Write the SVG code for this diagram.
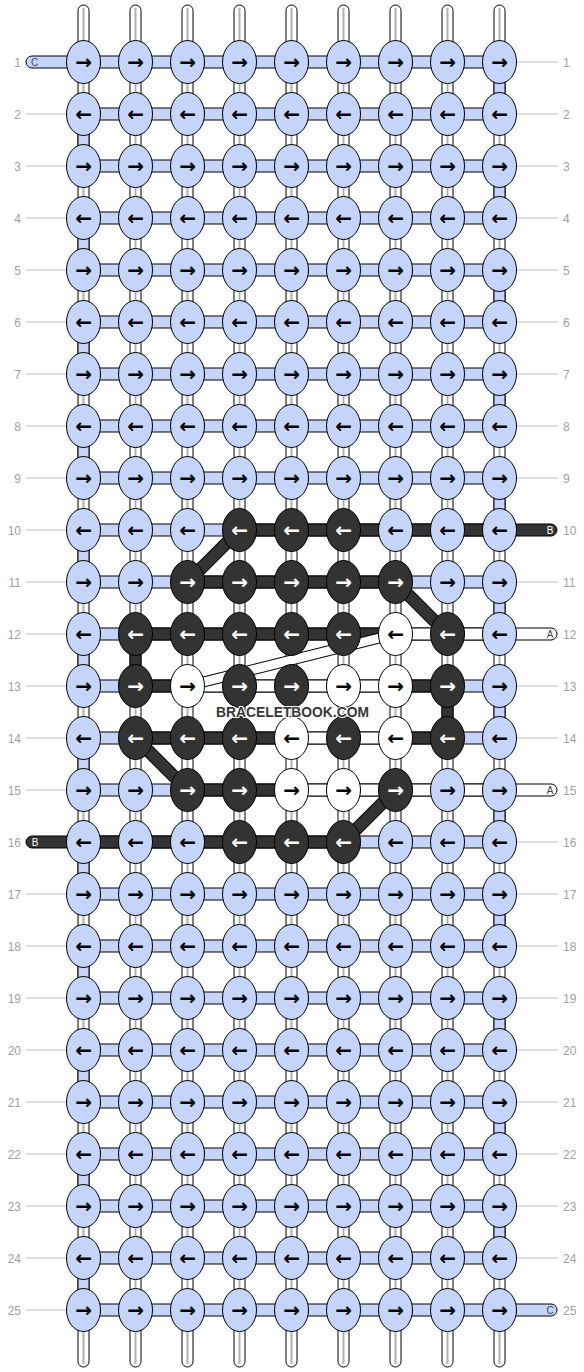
<svg xmlns="http://www.w3.org/2000/svg" width="584" height="1372" viewBox="0 0 584 1372">
<style>
.warp{fill:#fff;stroke:#000;stroke-width:1}
.wl{stroke:#b0b0b0;stroke-width:2}
.sb{fill:#c5d5f9;stroke:#000;stroke-width:1}
.sd{fill:#333;stroke:#000;stroke-width:1}
.sw{fill:#fff;stroke:#000;stroke-width:1}
.dg{stroke:#000;stroke-width:13;stroke-linecap:butt}
.dgi{stroke:#333;stroke-width:11}
.wg{stroke:#000;stroke-width:11}
.wgi{stroke:#fff;stroke-width:9}
.nodes ellipse{stroke:#000;stroke-width:1}
.b ellipse{fill:#c5d5f9}
.d ellipse{fill:#333}
.w ellipse{fill:#fff}
.nodes text{font-family:"DejaVu Sans",sans-serif;font-size:20px;font-weight:bold;text-anchor:middle;fill:#000}
.d text{fill:#fff}
.num{font-family:"Liberation Sans",Arial,sans-serif;font-size:12px;fill:#a0a0a0}
.ln{stroke:#bbb;stroke-width:1}
.lt{font-family:"Liberation Sans",Arial,sans-serif;font-size:10px;text-anchor:middle}
</style>
<g id="connectors">
<g id="warps">
<rect class="warp" x="78" y="5" width="11" height="1362" rx="5.5"/><line class="wl" x1="83.5" y1="8" x2="83.5" y2="1364"/>
<rect class="warp" x="130" y="5" width="11" height="1362" rx="5.5"/><line class="wl" x1="135.5" y1="8" x2="135.5" y2="1364"/>
<rect class="warp" x="182" y="5" width="11" height="1362" rx="5.5"/><line class="wl" x1="187.5" y1="8" x2="187.5" y2="1364"/>
<rect class="warp" x="234" y="5" width="11" height="1362" rx="5.5"/><line class="wl" x1="239.5" y1="8" x2="239.5" y2="1364"/>
<rect class="warp" x="286" y="5" width="11" height="1362" rx="5.5"/><line class="wl" x1="291.5" y1="8" x2="291.5" y2="1364"/>
<rect class="warp" x="338" y="5" width="11" height="1362" rx="5.5"/><line class="wl" x1="343.5" y1="8" x2="343.5" y2="1364"/>
<rect class="warp" x="390" y="5" width="11" height="1362" rx="5.5"/><line class="wl" x1="395.5" y1="8" x2="395.5" y2="1364"/>
<rect class="warp" x="442" y="5" width="11" height="1362" rx="5.5"/><line class="wl" x1="447.5" y1="8" x2="447.5" y2="1364"/>
<rect class="warp" x="494" y="5" width="11" height="1362" rx="5.5"/><line class="wl" x1="499.5" y1="8" x2="499.5" y2="1364"/>
</g>
<g id="wraps">
<rect class="sb" x="494" y="62" width="11" height="52"/>
<rect class="sb" x="494" y="166" width="11" height="52"/>
<rect class="sb" x="494" y="270" width="11" height="52"/>
<rect class="sb" x="494" y="374" width="11" height="52"/>
<rect class="sb" x="494" y="478" width="11" height="52"/>
<rect class="sb" x="494" y="582" width="11" height="52"/>
<rect class="sb" x="494" y="686" width="11" height="52"/>
<rect class="sb" x="494" y="790" width="11" height="52"/>
<rect class="sb" x="494" y="894" width="11" height="52"/>
<rect class="sb" x="494" y="998" width="11" height="52"/>
<rect class="sb" x="494" y="1102" width="11" height="52"/>
<rect class="sb" x="494" y="1206" width="11" height="52"/>
<rect class="sb" x="78" y="114" width="11" height="52"/>
<rect class="sb" x="78" y="218" width="11" height="52"/>
<rect class="sb" x="78" y="322" width="11" height="52"/>
<rect class="sb" x="78" y="426" width="11" height="52"/>
<rect class="sb" x="78" y="530" width="11" height="52"/>
<rect class="sb" x="78" y="634" width="11" height="52"/>
<rect class="sb" x="78" y="738" width="11" height="52"/>
<rect class="sb" x="78" y="842" width="11" height="52"/>
<rect class="sb" x="78" y="946" width="11" height="52"/>
<rect class="sb" x="78" y="1050" width="11" height="52"/>
<rect class="sb" x="78" y="1154" width="11" height="52"/>
<rect class="sb" x="78" y="1258" width="11" height="52"/>
<rect class="sd" x="130" y="634" width="11" height="52"/>
<rect class="sd" x="442" y="686" width="11" height="52"/>
</g>
<g id="rowbars">
<rect class="sb" x="83.5" y="56" width="416" height="12"/>
<rect class="sb" x="83.5" y="108" width="416" height="12"/>
<rect class="sb" x="83.5" y="160" width="416" height="12"/>
<rect class="sb" x="83.5" y="212" width="416" height="12"/>
<rect class="sb" x="83.5" y="264" width="416" height="12"/>
<rect class="sb" x="83.5" y="316" width="416" height="12"/>
<rect class="sb" x="83.5" y="368" width="416" height="12"/>
<rect class="sb" x="83.5" y="420" width="416" height="12"/>
<rect class="sb" x="83.5" y="472" width="416" height="12"/>
<rect class="sb" x="83.5" y="524" width="416" height="12"/>
<rect class="sb" x="83.5" y="576" width="416" height="12"/>
<rect class="sb" x="83.5" y="628" width="416" height="12"/>
<rect class="sb" x="83.5" y="680" width="416" height="12"/>
<rect class="sb" x="83.5" y="732" width="416" height="12"/>
<rect class="sb" x="83.5" y="784" width="416" height="12"/>
<rect class="sb" x="83.5" y="836" width="416" height="12"/>
<rect class="sb" x="83.5" y="888" width="416" height="12"/>
<rect class="sb" x="83.5" y="940" width="416" height="12"/>
<rect class="sb" x="83.5" y="992" width="416" height="12"/>
<rect class="sb" x="83.5" y="1044" width="416" height="12"/>
<rect class="sb" x="83.5" y="1096" width="416" height="12"/>
<rect class="sb" x="83.5" y="1148" width="416" height="12"/>
<rect class="sb" x="83.5" y="1200" width="416" height="12"/>
<rect class="sb" x="83.5" y="1252" width="416" height="12"/>
<rect class="sb" x="83.5" y="1304" width="416" height="12"/>
</g>
<g id="patternbars">
<rect class="sd" x="239.5" y="524" width="260" height="12"/>
<rect class="sd" x="187.5" y="576" width="208" height="12"/>
<rect class="sd" x="135.5" y="628" width="260" height="12"/>
<rect class="sw" x="395.5" y="628" width="104" height="12"/>
<rect class="sd" x="135.5" y="680" width="52" height="12"/>
<rect class="sw" x="187.5" y="680" width="208" height="12"/>
<rect class="sd" x="395.5" y="680" width="52" height="12"/>
<rect class="sd" x="135.5" y="732" width="156" height="12"/>
<rect class="sw" x="291.5" y="732" width="104" height="12"/>
<rect class="sd" x="395.5" y="732" width="52" height="12"/>
<rect class="sd" x="187.5" y="784" width="104" height="12"/>
<rect class="sw" x="291.5" y="784" width="208" height="12"/>
<rect class="sd" x="83.5" y="836" width="260" height="12"/>
</g>
<g id="diagonals">
<line class="dg" x1="239.5" y1="530" x2="187.5" y2="582"/><line class="dgi" x1="239.5" y1="530" x2="187.5" y2="582"/>
<line class="dg" x1="395.5" y1="582" x2="447.5" y2="634"/><line class="dgi" x1="395.5" y1="582" x2="447.5" y2="634"/>
<line class="dg" x1="135.5" y1="738" x2="187.5" y2="790"/><line class="dgi" x1="135.5" y1="738" x2="187.5" y2="790"/>
<line class="dg" x1="395.5" y1="790" x2="343.5" y2="842"/><line class="dgi" x1="395.5" y1="790" x2="343.5" y2="842"/>
<line class="wg" x1="395.5" y1="634" x2="187.5" y2="686"/><line class="wgi" x1="395.5" y1="634" x2="187.5" y2="686"/>
</g>
<g id="ends">
<path class="sb" d="M83.5,56 H32 A6,6 0 0 0 32,68 H83.5 Z"/><text class="lt" x="34.5" y="65.5" fill="#444">C</text>
<path class="sd" d="M83.5,836 H32 A6,6 0 0 0 32,848 H83.5 Z"/><text class="lt" x="35" y="845.5" fill="#fff">B</text>
<path class="sd" d="M499.5,524 H551 A6,6 0 0 1 551,536 H499.5 Z"/><text class="lt" x="550" y="533.5" fill="#fff">B</text>
<path class="sw" d="M499.5,628 H551 A6,6 0 0 1 551,640 H499.5 Z"/><text class="lt" x="550" y="637.5" fill="#444">A</text>
<path class="sw" d="M499.5,784 H551 A6,6 0 0 1 551,796 H499.5 Z"/><text class="lt" x="550" y="793.5" fill="#444">A</text>
<path class="sb" d="M499.5,1304 H551 A6,6 0 0 1 551,1316 H499.5 Z"/><text class="lt" x="550" y="1313.5" fill="#444">C</text>
</g>
</g>
<g class="nodes">
<g id="row1" transform="translate(0,62)">
<g id="r1c1" class="b" transform="translate(83.5)"><ellipse rx="17" ry="21.5"/><text y="6.5">→</text></g>
<g id="r1c2" class="b" transform="translate(135.5)"><ellipse rx="17" ry="21.5"/><text y="6.5">→</text></g>
<g id="r1c3" class="b" transform="translate(187.5)"><ellipse rx="17" ry="21.5"/><text y="6.5">→</text></g>
<g id="r1c4" class="b" transform="translate(239.5)"><ellipse rx="17" ry="21.5"/><text y="6.5">→</text></g>
<g id="r1c5" class="b" transform="translate(291.5)"><ellipse rx="17" ry="21.5"/><text y="6.5">→</text></g>
<g id="r1c6" class="b" transform="translate(343.5)"><ellipse rx="17" ry="21.5"/><text y="6.5">→</text></g>
<g id="r1c7" class="b" transform="translate(395.5)"><ellipse rx="17" ry="21.5"/><text y="6.5">→</text></g>
<g id="r1c8" class="b" transform="translate(447.5)"><ellipse rx="17" ry="21.5"/><text y="6.5">→</text></g>
<g id="r1c9" class="b" transform="translate(499.5)"><ellipse rx="17" ry="21.5"/><text y="6.5">→</text></g>
</g>
<g id="row2" transform="translate(0,114)">
<g id="r2c1" class="b" transform="translate(83.5)"><ellipse rx="17" ry="21.5"/><text y="6.5">←</text></g>
<g id="r2c2" class="b" transform="translate(135.5)"><ellipse rx="17" ry="21.5"/><text y="6.5">←</text></g>
<g id="r2c3" class="b" transform="translate(187.5)"><ellipse rx="17" ry="21.5"/><text y="6.5">←</text></g>
<g id="r2c4" class="b" transform="translate(239.5)"><ellipse rx="17" ry="21.5"/><text y="6.5">←</text></g>
<g id="r2c5" class="b" transform="translate(291.5)"><ellipse rx="17" ry="21.5"/><text y="6.5">←</text></g>
<g id="r2c6" class="b" transform="translate(343.5)"><ellipse rx="17" ry="21.5"/><text y="6.5">←</text></g>
<g id="r2c7" class="b" transform="translate(395.5)"><ellipse rx="17" ry="21.5"/><text y="6.5">←</text></g>
<g id="r2c8" class="b" transform="translate(447.5)"><ellipse rx="17" ry="21.5"/><text y="6.5">←</text></g>
<g id="r2c9" class="b" transform="translate(499.5)"><ellipse rx="17" ry="21.5"/><text y="6.5">←</text></g>
</g>
<g id="row3" transform="translate(0,166)">
<g id="r3c1" class="b" transform="translate(83.5)"><ellipse rx="17" ry="21.5"/><text y="6.5">→</text></g>
<g id="r3c2" class="b" transform="translate(135.5)"><ellipse rx="17" ry="21.5"/><text y="6.5">→</text></g>
<g id="r3c3" class="b" transform="translate(187.5)"><ellipse rx="17" ry="21.5"/><text y="6.5">→</text></g>
<g id="r3c4" class="b" transform="translate(239.5)"><ellipse rx="17" ry="21.5"/><text y="6.5">→</text></g>
<g id="r3c5" class="b" transform="translate(291.5)"><ellipse rx="17" ry="21.5"/><text y="6.5">→</text></g>
<g id="r3c6" class="b" transform="translate(343.5)"><ellipse rx="17" ry="21.5"/><text y="6.5">→</text></g>
<g id="r3c7" class="b" transform="translate(395.5)"><ellipse rx="17" ry="21.5"/><text y="6.5">→</text></g>
<g id="r3c8" class="b" transform="translate(447.5)"><ellipse rx="17" ry="21.5"/><text y="6.5">→</text></g>
<g id="r3c9" class="b" transform="translate(499.5)"><ellipse rx="17" ry="21.5"/><text y="6.5">→</text></g>
</g>
<g id="row4" transform="translate(0,218)">
<g id="r4c1" class="b" transform="translate(83.5)"><ellipse rx="17" ry="21.5"/><text y="6.5">←</text></g>
<g id="r4c2" class="b" transform="translate(135.5)"><ellipse rx="17" ry="21.5"/><text y="6.5">←</text></g>
<g id="r4c3" class="b" transform="translate(187.5)"><ellipse rx="17" ry="21.5"/><text y="6.5">←</text></g>
<g id="r4c4" class="b" transform="translate(239.5)"><ellipse rx="17" ry="21.5"/><text y="6.5">←</text></g>
<g id="r4c5" class="b" transform="translate(291.5)"><ellipse rx="17" ry="21.5"/><text y="6.5">←</text></g>
<g id="r4c6" class="b" transform="translate(343.5)"><ellipse rx="17" ry="21.5"/><text y="6.5">←</text></g>
<g id="r4c7" class="b" transform="translate(395.5)"><ellipse rx="17" ry="21.5"/><text y="6.5">←</text></g>
<g id="r4c8" class="b" transform="translate(447.5)"><ellipse rx="17" ry="21.5"/><text y="6.5">←</text></g>
<g id="r4c9" class="b" transform="translate(499.5)"><ellipse rx="17" ry="21.5"/><text y="6.5">←</text></g>
</g>
<g id="row5" transform="translate(0,270)">
<g id="r5c1" class="b" transform="translate(83.5)"><ellipse rx="17" ry="21.5"/><text y="6.5">→</text></g>
<g id="r5c2" class="b" transform="translate(135.5)"><ellipse rx="17" ry="21.5"/><text y="6.5">→</text></g>
<g id="r5c3" class="b" transform="translate(187.5)"><ellipse rx="17" ry="21.5"/><text y="6.5">→</text></g>
<g id="r5c4" class="b" transform="translate(239.5)"><ellipse rx="17" ry="21.5"/><text y="6.5">→</text></g>
<g id="r5c5" class="b" transform="translate(291.5)"><ellipse rx="17" ry="21.5"/><text y="6.5">→</text></g>
<g id="r5c6" class="b" transform="translate(343.5)"><ellipse rx="17" ry="21.5"/><text y="6.5">→</text></g>
<g id="r5c7" class="b" transform="translate(395.5)"><ellipse rx="17" ry="21.5"/><text y="6.5">→</text></g>
<g id="r5c8" class="b" transform="translate(447.5)"><ellipse rx="17" ry="21.5"/><text y="6.5">→</text></g>
<g id="r5c9" class="b" transform="translate(499.5)"><ellipse rx="17" ry="21.5"/><text y="6.5">→</text></g>
</g>
<g id="row6" transform="translate(0,322)">
<g id="r6c1" class="b" transform="translate(83.5)"><ellipse rx="17" ry="21.5"/><text y="6.5">←</text></g>
<g id="r6c2" class="b" transform="translate(135.5)"><ellipse rx="17" ry="21.5"/><text y="6.5">←</text></g>
<g id="r6c3" class="b" transform="translate(187.5)"><ellipse rx="17" ry="21.5"/><text y="6.5">←</text></g>
<g id="r6c4" class="b" transform="translate(239.5)"><ellipse rx="17" ry="21.5"/><text y="6.5">←</text></g>
<g id="r6c5" class="b" transform="translate(291.5)"><ellipse rx="17" ry="21.5"/><text y="6.5">←</text></g>
<g id="r6c6" class="b" transform="translate(343.5)"><ellipse rx="17" ry="21.5"/><text y="6.5">←</text></g>
<g id="r6c7" class="b" transform="translate(395.5)"><ellipse rx="17" ry="21.5"/><text y="6.5">←</text></g>
<g id="r6c8" class="b" transform="translate(447.5)"><ellipse rx="17" ry="21.5"/><text y="6.5">←</text></g>
<g id="r6c9" class="b" transform="translate(499.5)"><ellipse rx="17" ry="21.5"/><text y="6.5">←</text></g>
</g>
<g id="row7" transform="translate(0,374)">
<g id="r7c1" class="b" transform="translate(83.5)"><ellipse rx="17" ry="21.5"/><text y="6.5">→</text></g>
<g id="r7c2" class="b" transform="translate(135.5)"><ellipse rx="17" ry="21.5"/><text y="6.5">→</text></g>
<g id="r7c3" class="b" transform="translate(187.5)"><ellipse rx="17" ry="21.5"/><text y="6.5">→</text></g>
<g id="r7c4" class="b" transform="translate(239.5)"><ellipse rx="17" ry="21.5"/><text y="6.5">→</text></g>
<g id="r7c5" class="b" transform="translate(291.5)"><ellipse rx="17" ry="21.5"/><text y="6.5">→</text></g>
<g id="r7c6" class="b" transform="translate(343.5)"><ellipse rx="17" ry="21.5"/><text y="6.5">→</text></g>
<g id="r7c7" class="b" transform="translate(395.5)"><ellipse rx="17" ry="21.5"/><text y="6.5">→</text></g>
<g id="r7c8" class="b" transform="translate(447.5)"><ellipse rx="17" ry="21.5"/><text y="6.5">→</text></g>
<g id="r7c9" class="b" transform="translate(499.5)"><ellipse rx="17" ry="21.5"/><text y="6.5">→</text></g>
</g>
<g id="row8" transform="translate(0,426)">
<g id="r8c1" class="b" transform="translate(83.5)"><ellipse rx="17" ry="21.5"/><text y="6.5">←</text></g>
<g id="r8c2" class="b" transform="translate(135.5)"><ellipse rx="17" ry="21.5"/><text y="6.5">←</text></g>
<g id="r8c3" class="b" transform="translate(187.5)"><ellipse rx="17" ry="21.5"/><text y="6.5">←</text></g>
<g id="r8c4" class="b" transform="translate(239.5)"><ellipse rx="17" ry="21.5"/><text y="6.5">←</text></g>
<g id="r8c5" class="b" transform="translate(291.5)"><ellipse rx="17" ry="21.5"/><text y="6.5">←</text></g>
<g id="r8c6" class="b" transform="translate(343.5)"><ellipse rx="17" ry="21.5"/><text y="6.5">←</text></g>
<g id="r8c7" class="b" transform="translate(395.5)"><ellipse rx="17" ry="21.5"/><text y="6.5">←</text></g>
<g id="r8c8" class="b" transform="translate(447.5)"><ellipse rx="17" ry="21.5"/><text y="6.5">←</text></g>
<g id="r8c9" class="b" transform="translate(499.5)"><ellipse rx="17" ry="21.5"/><text y="6.5">←</text></g>
</g>
<g id="row9" transform="translate(0,478)">
<g id="r9c1" class="b" transform="translate(83.5)"><ellipse rx="17" ry="21.5"/><text y="6.5">→</text></g>
<g id="r9c2" class="b" transform="translate(135.5)"><ellipse rx="17" ry="21.5"/><text y="6.5">→</text></g>
<g id="r9c3" class="b" transform="translate(187.5)"><ellipse rx="17" ry="21.5"/><text y="6.5">→</text></g>
<g id="r9c4" class="b" transform="translate(239.5)"><ellipse rx="17" ry="21.5"/><text y="6.5">→</text></g>
<g id="r9c5" class="b" transform="translate(291.5)"><ellipse rx="17" ry="21.5"/><text y="6.5">→</text></g>
<g id="r9c6" class="b" transform="translate(343.5)"><ellipse rx="17" ry="21.5"/><text y="6.5">→</text></g>
<g id="r9c7" class="b" transform="translate(395.5)"><ellipse rx="17" ry="21.5"/><text y="6.5">→</text></g>
<g id="r9c8" class="b" transform="translate(447.5)"><ellipse rx="17" ry="21.5"/><text y="6.5">→</text></g>
<g id="r9c9" class="b" transform="translate(499.5)"><ellipse rx="17" ry="21.5"/><text y="6.5">→</text></g>
</g>
<g id="row10" transform="translate(0,530)">
<g id="r10c1" class="b" transform="translate(83.5)"><ellipse rx="17" ry="21.5"/><text y="6.5">←</text></g>
<g id="r10c2" class="b" transform="translate(135.5)"><ellipse rx="17" ry="21.5"/><text y="6.5">←</text></g>
<g id="r10c3" class="b" transform="translate(187.5)"><ellipse rx="17" ry="21.5"/><text y="6.5">←</text></g>
<g id="r10c4" class="d" transform="translate(239.5)"><ellipse rx="17" ry="21.5"/><text y="6.5">←</text></g>
<g id="r10c5" class="d" transform="translate(291.5)"><ellipse rx="17" ry="21.5"/><text y="6.5">←</text></g>
<g id="r10c6" class="d" transform="translate(343.5)"><ellipse rx="17" ry="21.5"/><text y="6.5">←</text></g>
<g id="r10c7" class="b" transform="translate(395.5)"><ellipse rx="17" ry="21.5"/><text y="6.5">←</text></g>
<g id="r10c8" class="b" transform="translate(447.5)"><ellipse rx="17" ry="21.5"/><text y="6.5">←</text></g>
<g id="r10c9" class="b" transform="translate(499.5)"><ellipse rx="17" ry="21.5"/><text y="6.5">←</text></g>
</g>
<g id="row11" transform="translate(0,582)">
<g id="r11c1" class="b" transform="translate(83.5)"><ellipse rx="17" ry="21.5"/><text y="6.5">→</text></g>
<g id="r11c2" class="b" transform="translate(135.5)"><ellipse rx="17" ry="21.5"/><text y="6.5">→</text></g>
<g id="r11c3" class="d" transform="translate(187.5)"><ellipse rx="17" ry="21.5"/><text y="6.5">→</text></g>
<g id="r11c4" class="d" transform="translate(239.5)"><ellipse rx="17" ry="21.5"/><text y="6.5">→</text></g>
<g id="r11c5" class="d" transform="translate(291.5)"><ellipse rx="17" ry="21.5"/><text y="6.5">→</text></g>
<g id="r11c6" class="d" transform="translate(343.5)"><ellipse rx="17" ry="21.5"/><text y="6.5">→</text></g>
<g id="r11c7" class="d" transform="translate(395.5)"><ellipse rx="17" ry="21.5"/><text y="6.5">→</text></g>
<g id="r11c8" class="b" transform="translate(447.5)"><ellipse rx="17" ry="21.5"/><text y="6.5">→</text></g>
<g id="r11c9" class="b" transform="translate(499.5)"><ellipse rx="17" ry="21.5"/><text y="6.5">→</text></g>
</g>
<g id="row12" transform="translate(0,634)">
<g id="r12c1" class="b" transform="translate(83.5)"><ellipse rx="17" ry="21.5"/><text y="6.5">←</text></g>
<g id="r12c2" class="d" transform="translate(135.5)"><ellipse rx="17" ry="21.5"/><text y="6.5">←</text></g>
<g id="r12c3" class="d" transform="translate(187.5)"><ellipse rx="17" ry="21.5"/><text y="6.5">←</text></g>
<g id="r12c4" class="d" transform="translate(239.5)"><ellipse rx="17" ry="21.5"/><text y="6.5">←</text></g>
<g id="r12c5" class="d" transform="translate(291.5)"><ellipse rx="17" ry="21.5"/><text y="6.5">←</text></g>
<g id="r12c6" class="d" transform="translate(343.5)"><ellipse rx="17" ry="21.5"/><text y="6.5">←</text></g>
<g id="r12c7" class="w" transform="translate(395.5)"><ellipse rx="17" ry="21.5"/><text y="6.5">←</text></g>
<g id="r12c8" class="d" transform="translate(447.5)"><ellipse rx="17" ry="21.5"/><text y="6.5">←</text></g>
<g id="r12c9" class="b" transform="translate(499.5)"><ellipse rx="17" ry="21.5"/><text y="6.5">←</text></g>
</g>
<g id="row13" transform="translate(0,686)">
<g id="r13c1" class="b" transform="translate(83.5)"><ellipse rx="17" ry="21.5"/><text y="6.5">→</text></g>
<g id="r13c2" class="d" transform="translate(135.5)"><ellipse rx="17" ry="21.5"/><text y="6.5">→</text></g>
<g id="r13c3" class="w" transform="translate(187.5)"><ellipse rx="17" ry="21.5"/><text y="6.5">→</text></g>
<g id="r13c4" class="d" transform="translate(239.5)"><ellipse rx="17" ry="21.5"/><text y="6.5">→</text></g>
<g id="r13c5" class="d" transform="translate(291.5)"><ellipse rx="17" ry="21.5"/><text y="6.5">→</text></g>
<g id="r13c6" class="w" transform="translate(343.5)"><ellipse rx="17" ry="21.5"/><text y="6.5">→</text></g>
<g id="r13c7" class="w" transform="translate(395.5)"><ellipse rx="17" ry="21.5"/><text y="6.5">→</text></g>
<g id="r13c8" class="d" transform="translate(447.5)"><ellipse rx="17" ry="21.5"/><text y="6.5">→</text></g>
<g id="r13c9" class="b" transform="translate(499.5)"><ellipse rx="17" ry="21.5"/><text y="6.5">→</text></g>
</g>
<g id="row14" transform="translate(0,738)">
<g id="r14c1" class="b" transform="translate(83.5)"><ellipse rx="17" ry="21.5"/><text y="6.5">←</text></g>
<g id="r14c2" class="d" transform="translate(135.5)"><ellipse rx="17" ry="21.5"/><text y="6.5">←</text></g>
<g id="r14c3" class="d" transform="translate(187.5)"><ellipse rx="17" ry="21.5"/><text y="6.5">←</text></g>
<g id="r14c4" class="d" transform="translate(239.5)"><ellipse rx="17" ry="21.5"/><text y="6.5">←</text></g>
<g id="r14c5" class="w" transform="translate(291.5)"><ellipse rx="17" ry="21.5"/><text y="6.5">←</text></g>
<g id="r14c6" class="d" transform="translate(343.5)"><ellipse rx="17" ry="21.5"/><text y="6.5">←</text></g>
<g id="r14c7" class="w" transform="translate(395.5)"><ellipse rx="17" ry="21.5"/><text y="6.5">←</text></g>
<g id="r14c8" class="d" transform="translate(447.5)"><ellipse rx="17" ry="21.5"/><text y="6.5">←</text></g>
<g id="r14c9" class="b" transform="translate(499.5)"><ellipse rx="17" ry="21.5"/><text y="6.5">←</text></g>
</g>
<g id="row15" transform="translate(0,790)">
<g id="r15c1" class="b" transform="translate(83.5)"><ellipse rx="17" ry="21.5"/><text y="6.5">→</text></g>
<g id="r15c2" class="b" transform="translate(135.5)"><ellipse rx="17" ry="21.5"/><text y="6.5">→</text></g>
<g id="r15c3" class="d" transform="translate(187.5)"><ellipse rx="17" ry="21.5"/><text y="6.5">→</text></g>
<g id="r15c4" class="d" transform="translate(239.5)"><ellipse rx="17" ry="21.5"/><text y="6.5">→</text></g>
<g id="r15c5" class="w" transform="translate(291.5)"><ellipse rx="17" ry="21.5"/><text y="6.5">→</text></g>
<g id="r15c6" class="w" transform="translate(343.5)"><ellipse rx="17" ry="21.5"/><text y="6.5">→</text></g>
<g id="r15c7" class="d" transform="translate(395.5)"><ellipse rx="17" ry="21.5"/><text y="6.5">→</text></g>
<g id="r15c8" class="b" transform="translate(447.5)"><ellipse rx="17" ry="21.5"/><text y="6.5">→</text></g>
<g id="r15c9" class="b" transform="translate(499.5)"><ellipse rx="17" ry="21.5"/><text y="6.5">→</text></g>
</g>
<g id="row16" transform="translate(0,842)">
<g id="r16c1" class="b" transform="translate(83.5)"><ellipse rx="17" ry="21.5"/><text y="6.5">←</text></g>
<g id="r16c2" class="b" transform="translate(135.5)"><ellipse rx="17" ry="21.5"/><text y="6.5">←</text></g>
<g id="r16c3" class="b" transform="translate(187.5)"><ellipse rx="17" ry="21.5"/><text y="6.5">←</text></g>
<g id="r16c4" class="d" transform="translate(239.5)"><ellipse rx="17" ry="21.5"/><text y="6.5">←</text></g>
<g id="r16c5" class="d" transform="translate(291.5)"><ellipse rx="17" ry="21.5"/><text y="6.5">←</text></g>
<g id="r16c6" class="d" transform="translate(343.5)"><ellipse rx="17" ry="21.5"/><text y="6.5">←</text></g>
<g id="r16c7" class="b" transform="translate(395.5)"><ellipse rx="17" ry="21.5"/><text y="6.5">←</text></g>
<g id="r16c8" class="b" transform="translate(447.5)"><ellipse rx="17" ry="21.5"/><text y="6.5">←</text></g>
<g id="r16c9" class="b" transform="translate(499.5)"><ellipse rx="17" ry="21.5"/><text y="6.5">←</text></g>
</g>
<g id="row17" transform="translate(0,894)">
<g id="r17c1" class="b" transform="translate(83.5)"><ellipse rx="17" ry="21.5"/><text y="6.5">→</text></g>
<g id="r17c2" class="b" transform="translate(135.5)"><ellipse rx="17" ry="21.5"/><text y="6.5">→</text></g>
<g id="r17c3" class="b" transform="translate(187.5)"><ellipse rx="17" ry="21.5"/><text y="6.5">→</text></g>
<g id="r17c4" class="b" transform="translate(239.5)"><ellipse rx="17" ry="21.5"/><text y="6.5">→</text></g>
<g id="r17c5" class="b" transform="translate(291.5)"><ellipse rx="17" ry="21.5"/><text y="6.5">→</text></g>
<g id="r17c6" class="b" transform="translate(343.5)"><ellipse rx="17" ry="21.5"/><text y="6.5">→</text></g>
<g id="r17c7" class="b" transform="translate(395.5)"><ellipse rx="17" ry="21.5"/><text y="6.5">→</text></g>
<g id="r17c8" class="b" transform="translate(447.5)"><ellipse rx="17" ry="21.5"/><text y="6.5">→</text></g>
<g id="r17c9" class="b" transform="translate(499.5)"><ellipse rx="17" ry="21.5"/><text y="6.5">→</text></g>
</g>
<g id="row18" transform="translate(0,946)">
<g id="r18c1" class="b" transform="translate(83.5)"><ellipse rx="17" ry="21.5"/><text y="6.5">←</text></g>
<g id="r18c2" class="b" transform="translate(135.5)"><ellipse rx="17" ry="21.5"/><text y="6.5">←</text></g>
<g id="r18c3" class="b" transform="translate(187.5)"><ellipse rx="17" ry="21.5"/><text y="6.5">←</text></g>
<g id="r18c4" class="b" transform="translate(239.5)"><ellipse rx="17" ry="21.5"/><text y="6.5">←</text></g>
<g id="r18c5" class="b" transform="translate(291.5)"><ellipse rx="17" ry="21.5"/><text y="6.5">←</text></g>
<g id="r18c6" class="b" transform="translate(343.5)"><ellipse rx="17" ry="21.5"/><text y="6.5">←</text></g>
<g id="r18c7" class="b" transform="translate(395.5)"><ellipse rx="17" ry="21.5"/><text y="6.5">←</text></g>
<g id="r18c8" class="b" transform="translate(447.5)"><ellipse rx="17" ry="21.5"/><text y="6.5">←</text></g>
<g id="r18c9" class="b" transform="translate(499.5)"><ellipse rx="17" ry="21.5"/><text y="6.5">←</text></g>
</g>
<g id="row19" transform="translate(0,998)">
<g id="r19c1" class="b" transform="translate(83.5)"><ellipse rx="17" ry="21.5"/><text y="6.5">→</text></g>
<g id="r19c2" class="b" transform="translate(135.5)"><ellipse rx="17" ry="21.5"/><text y="6.5">→</text></g>
<g id="r19c3" class="b" transform="translate(187.5)"><ellipse rx="17" ry="21.5"/><text y="6.5">→</text></g>
<g id="r19c4" class="b" transform="translate(239.5)"><ellipse rx="17" ry="21.5"/><text y="6.5">→</text></g>
<g id="r19c5" class="b" transform="translate(291.5)"><ellipse rx="17" ry="21.5"/><text y="6.5">→</text></g>
<g id="r19c6" class="b" transform="translate(343.5)"><ellipse rx="17" ry="21.5"/><text y="6.5">→</text></g>
<g id="r19c7" class="b" transform="translate(395.5)"><ellipse rx="17" ry="21.5"/><text y="6.5">→</text></g>
<g id="r19c8" class="b" transform="translate(447.5)"><ellipse rx="17" ry="21.5"/><text y="6.5">→</text></g>
<g id="r19c9" class="b" transform="translate(499.5)"><ellipse rx="17" ry="21.5"/><text y="6.5">→</text></g>
</g>
<g id="row20" transform="translate(0,1050)">
<g id="r20c1" class="b" transform="translate(83.5)"><ellipse rx="17" ry="21.5"/><text y="6.5">←</text></g>
<g id="r20c2" class="b" transform="translate(135.5)"><ellipse rx="17" ry="21.5"/><text y="6.5">←</text></g>
<g id="r20c3" class="b" transform="translate(187.5)"><ellipse rx="17" ry="21.5"/><text y="6.5">←</text></g>
<g id="r20c4" class="b" transform="translate(239.5)"><ellipse rx="17" ry="21.5"/><text y="6.5">←</text></g>
<g id="r20c5" class="b" transform="translate(291.5)"><ellipse rx="17" ry="21.5"/><text y="6.5">←</text></g>
<g id="r20c6" class="b" transform="translate(343.5)"><ellipse rx="17" ry="21.5"/><text y="6.5">←</text></g>
<g id="r20c7" class="b" transform="translate(395.5)"><ellipse rx="17" ry="21.5"/><text y="6.5">←</text></g>
<g id="r20c8" class="b" transform="translate(447.5)"><ellipse rx="17" ry="21.5"/><text y="6.5">←</text></g>
<g id="r20c9" class="b" transform="translate(499.5)"><ellipse rx="17" ry="21.5"/><text y="6.5">←</text></g>
</g>
<g id="row21" transform="translate(0,1102)">
<g id="r21c1" class="b" transform="translate(83.5)"><ellipse rx="17" ry="21.5"/><text y="6.5">→</text></g>
<g id="r21c2" class="b" transform="translate(135.5)"><ellipse rx="17" ry="21.5"/><text y="6.5">→</text></g>
<g id="r21c3" class="b" transform="translate(187.5)"><ellipse rx="17" ry="21.5"/><text y="6.5">→</text></g>
<g id="r21c4" class="b" transform="translate(239.5)"><ellipse rx="17" ry="21.5"/><text y="6.5">→</text></g>
<g id="r21c5" class="b" transform="translate(291.5)"><ellipse rx="17" ry="21.5"/><text y="6.5">→</text></g>
<g id="r21c6" class="b" transform="translate(343.5)"><ellipse rx="17" ry="21.5"/><text y="6.5">→</text></g>
<g id="r21c7" class="b" transform="translate(395.5)"><ellipse rx="17" ry="21.5"/><text y="6.5">→</text></g>
<g id="r21c8" class="b" transform="translate(447.5)"><ellipse rx="17" ry="21.5"/><text y="6.5">→</text></g>
<g id="r21c9" class="b" transform="translate(499.5)"><ellipse rx="17" ry="21.5"/><text y="6.5">→</text></g>
</g>
<g id="row22" transform="translate(0,1154)">
<g id="r22c1" class="b" transform="translate(83.5)"><ellipse rx="17" ry="21.5"/><text y="6.5">←</text></g>
<g id="r22c2" class="b" transform="translate(135.5)"><ellipse rx="17" ry="21.5"/><text y="6.5">←</text></g>
<g id="r22c3" class="b" transform="translate(187.5)"><ellipse rx="17" ry="21.5"/><text y="6.5">←</text></g>
<g id="r22c4" class="b" transform="translate(239.5)"><ellipse rx="17" ry="21.5"/><text y="6.5">←</text></g>
<g id="r22c5" class="b" transform="translate(291.5)"><ellipse rx="17" ry="21.5"/><text y="6.5">←</text></g>
<g id="r22c6" class="b" transform="translate(343.5)"><ellipse rx="17" ry="21.5"/><text y="6.5">←</text></g>
<g id="r22c7" class="b" transform="translate(395.5)"><ellipse rx="17" ry="21.5"/><text y="6.5">←</text></g>
<g id="r22c8" class="b" transform="translate(447.5)"><ellipse rx="17" ry="21.5"/><text y="6.5">←</text></g>
<g id="r22c9" class="b" transform="translate(499.5)"><ellipse rx="17" ry="21.5"/><text y="6.5">←</text></g>
</g>
<g id="row23" transform="translate(0,1206)">
<g id="r23c1" class="b" transform="translate(83.5)"><ellipse rx="17" ry="21.5"/><text y="6.5">→</text></g>
<g id="r23c2" class="b" transform="translate(135.5)"><ellipse rx="17" ry="21.5"/><text y="6.5">→</text></g>
<g id="r23c3" class="b" transform="translate(187.5)"><ellipse rx="17" ry="21.5"/><text y="6.5">→</text></g>
<g id="r23c4" class="b" transform="translate(239.5)"><ellipse rx="17" ry="21.5"/><text y="6.5">→</text></g>
<g id="r23c5" class="b" transform="translate(291.5)"><ellipse rx="17" ry="21.5"/><text y="6.5">→</text></g>
<g id="r23c6" class="b" transform="translate(343.5)"><ellipse rx="17" ry="21.5"/><text y="6.5">→</text></g>
<g id="r23c7" class="b" transform="translate(395.5)"><ellipse rx="17" ry="21.5"/><text y="6.5">→</text></g>
<g id="r23c8" class="b" transform="translate(447.5)"><ellipse rx="17" ry="21.5"/><text y="6.5">→</text></g>
<g id="r23c9" class="b" transform="translate(499.5)"><ellipse rx="17" ry="21.5"/><text y="6.5">→</text></g>
</g>
<g id="row24" transform="translate(0,1258)">
<g id="r24c1" class="b" transform="translate(83.5)"><ellipse rx="17" ry="21.5"/><text y="6.5">←</text></g>
<g id="r24c2" class="b" transform="translate(135.5)"><ellipse rx="17" ry="21.5"/><text y="6.5">←</text></g>
<g id="r24c3" class="b" transform="translate(187.5)"><ellipse rx="17" ry="21.5"/><text y="6.5">←</text></g>
<g id="r24c4" class="b" transform="translate(239.5)"><ellipse rx="17" ry="21.5"/><text y="6.5">←</text></g>
<g id="r24c5" class="b" transform="translate(291.5)"><ellipse rx="17" ry="21.5"/><text y="6.5">←</text></g>
<g id="r24c6" class="b" transform="translate(343.5)"><ellipse rx="17" ry="21.5"/><text y="6.5">←</text></g>
<g id="r24c7" class="b" transform="translate(395.5)"><ellipse rx="17" ry="21.5"/><text y="6.5">←</text></g>
<g id="r24c8" class="b" transform="translate(447.5)"><ellipse rx="17" ry="21.5"/><text y="6.5">←</text></g>
<g id="r24c9" class="b" transform="translate(499.5)"><ellipse rx="17" ry="21.5"/><text y="6.5">←</text></g>
</g>
<g id="row25" transform="translate(0,1310)">
<g id="r25c1" class="b" transform="translate(83.5)"><ellipse rx="17" ry="21.5"/><text y="6.5">→</text></g>
<g id="r25c2" class="b" transform="translate(135.5)"><ellipse rx="17" ry="21.5"/><text y="6.5">→</text></g>
<g id="r25c3" class="b" transform="translate(187.5)"><ellipse rx="17" ry="21.5"/><text y="6.5">→</text></g>
<g id="r25c4" class="b" transform="translate(239.5)"><ellipse rx="17" ry="21.5"/><text y="6.5">→</text></g>
<g id="r25c5" class="b" transform="translate(291.5)"><ellipse rx="17" ry="21.5"/><text y="6.5">→</text></g>
<g id="r25c6" class="b" transform="translate(343.5)"><ellipse rx="17" ry="21.5"/><text y="6.5">→</text></g>
<g id="r25c7" class="b" transform="translate(395.5)"><ellipse rx="17" ry="21.5"/><text y="6.5">→</text></g>
<g id="r25c8" class="b" transform="translate(447.5)"><ellipse rx="17" ry="21.5"/><text y="6.5">→</text></g>
<g id="r25c9" class="b" transform="translate(499.5)"><ellipse rx="17" ry="21.5"/><text y="6.5">→</text></g>
</g>
</g>
<text id="watermark" x="216" y="717" textLength="153" lengthAdjust="spacingAndGlyphs" font-family="'Liberation Sans',Arial,sans-serif" font-size="14" font-weight="bold" fill="#383838" stroke="#fff" stroke-width="2" paint-order="stroke">BRACELETBOOK.COM</text>
<g id="labels">
<g class="ln">
<line x1="26" y1="114" x2="66" y2="114"/><line x1="26" y1="166" x2="66" y2="166"/><line x1="26" y1="218" x2="66" y2="218"/><line x1="26" y1="270" x2="66" y2="270"/><line x1="26" y1="322" x2="66" y2="322"/><line x1="26" y1="374" x2="66" y2="374"/><line x1="26" y1="426" x2="66" y2="426"/><line x1="26" y1="478" x2="66" y2="478"/><line x1="26" y1="530" x2="66" y2="530"/><line x1="26" y1="582" x2="66" y2="582"/><line x1="26" y1="634" x2="66" y2="634"/><line x1="26" y1="686" x2="66" y2="686"/><line x1="26" y1="738" x2="66" y2="738"/><line x1="26" y1="790" x2="66" y2="790"/><line x1="26" y1="894" x2="66" y2="894"/><line x1="26" y1="946" x2="66" y2="946"/><line x1="26" y1="998" x2="66" y2="998"/><line x1="26" y1="1050" x2="66" y2="1050"/><line x1="26" y1="1102" x2="66" y2="1102"/><line x1="26" y1="1154" x2="66" y2="1154"/><line x1="26" y1="1206" x2="66" y2="1206"/><line x1="26" y1="1258" x2="66" y2="1258"/><line x1="26" y1="1310" x2="66" y2="1310"/>
<line x1="517" y1="62" x2="558" y2="62"/><line x1="517" y1="114" x2="558" y2="114"/><line x1="517" y1="166" x2="558" y2="166"/><line x1="517" y1="218" x2="558" y2="218"/><line x1="517" y1="270" x2="558" y2="270"/><line x1="517" y1="322" x2="558" y2="322"/><line x1="517" y1="374" x2="558" y2="374"/><line x1="517" y1="426" x2="558" y2="426"/><line x1="517" y1="478" x2="558" y2="478"/><line x1="517" y1="582" x2="558" y2="582"/><line x1="517" y1="686" x2="558" y2="686"/><line x1="517" y1="738" x2="558" y2="738"/><line x1="517" y1="842" x2="558" y2="842"/><line x1="517" y1="894" x2="558" y2="894"/><line x1="517" y1="946" x2="558" y2="946"/><line x1="517" y1="998" x2="558" y2="998"/><line x1="517" y1="1050" x2="558" y2="1050"/><line x1="517" y1="1102" x2="558" y2="1102"/><line x1="517" y1="1154" x2="558" y2="1154"/><line x1="517" y1="1206" x2="558" y2="1206"/><line x1="517" y1="1258" x2="558" y2="1258"/>
</g>
<g class="num" text-anchor="end">
<text x="21" y="66.5">1</text><text x="21" y="118.5">2</text><text x="21" y="170.5">3</text><text x="21" y="222.5">4</text><text x="21" y="274.5">5</text><text x="21" y="326.5">6</text><text x="21" y="378.5">7</text><text x="21" y="430.5">8</text><text x="21" y="482.5">9</text><text x="21" y="534.5">10</text><text x="21" y="586.5">11</text><text x="21" y="638.5">12</text><text x="21" y="690.5">13</text><text x="21" y="742.5">14</text><text x="21" y="794.5">15</text><text x="21" y="846.5">16</text><text x="21" y="898.5">17</text><text x="21" y="950.5">18</text><text x="21" y="1002.5">19</text><text x="21" y="1054.5">20</text><text x="21" y="1106.5">21</text><text x="21" y="1158.5">22</text><text x="21" y="1210.5">23</text><text x="21" y="1262.5">24</text><text x="21" y="1314.5">25</text>
</g>
<g class="num">
<text x="563" y="66.5">1</text><text x="563" y="118.5">2</text><text x="563" y="170.5">3</text><text x="563" y="222.5">4</text><text x="563" y="274.5">5</text><text x="563" y="326.5">6</text><text x="563" y="378.5">7</text><text x="563" y="430.5">8</text><text x="563" y="482.5">9</text><text x="563" y="534.5">10</text><text x="563" y="586.5">11</text><text x="563" y="638.5">12</text><text x="563" y="690.5">13</text><text x="563" y="742.5">14</text><text x="563" y="794.5">15</text><text x="563" y="846.5">16</text><text x="563" y="898.5">17</text><text x="563" y="950.5">18</text><text x="563" y="1002.5">19</text><text x="563" y="1054.5">20</text><text x="563" y="1106.5">21</text><text x="563" y="1158.5">22</text><text x="563" y="1210.5">23</text><text x="563" y="1262.5">24</text><text x="563" y="1314.5">25</text>
</g>
</g>
</svg>
